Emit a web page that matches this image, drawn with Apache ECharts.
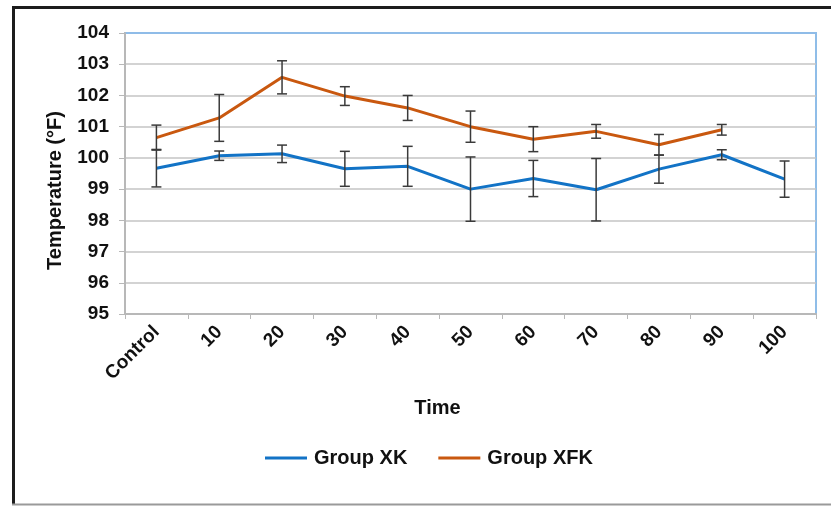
<!DOCTYPE html>
<html style="height: 100%">
<head>
<meta charset="utf-8">
<script src="https://cdn.jsdelivr.net/npm/echarts@6/dist/echarts.min.js"></script>
</head>
<body style="height: 100%; margin: 0; background: #fff">
<div id="container" style="width: 831px; height: 506px"></div>
<script type="text/javascript">
// time points and temperature means (°F) with error half-widths
var categories = ['Control', '10', '20', '30', '40', '50', '60', '70', '80', '90', '100'];
var xk = [99.67, 100.07, 100.13, 99.65, 99.73, 99.0, 99.34, 98.98, 99.64, 100.10, 99.32];
var xkErr = [0.6, 0.15, 0.28, 0.56, 0.64, 1.03, 0.58, 1.0, 0.45, 0.16, 0.58];
var xfk = [100.65, 101.28, 102.58, 101.98, 101.6, 101.0, 100.6, 100.85, 100.42, 100.9, null];
var xfkErr = [0.4, 0.75, 0.53, 0.3, 0.4, 0.5, 0.4, 0.22, 0.33, 0.17, null];
var yTicks = [95, 96, 97, 98, 99, 100, 101, 102, 103, 104];

var FONT = '"Liberation Sans", Arial, sans-serif';

var errData = function(vals, errs) {
    var res = [];
    for (var i = 0; i < vals.length; i++) {
        if (vals[i] != null) {
            res.push([i, vals[i] - errs[i], vals[i] + errs[i]]);
        }
    }
    return res;
};

var renderErr = function(params, api) {
    var lo = api.coord([api.value(0), api.value(1)]);
    var hi = api.coord([api.value(0), api.value(2)]);
    var w = 5;
    var st = { stroke: '#3a3a3a', lineWidth: 1.5 };
    return {
        type: 'group',
        children: [
            { type: 'line', shape: { x1: lo[0], y1: lo[1], x2: hi[0], y2: hi[1] }, style: st },
            { type: 'line', shape: { x1: lo[0] - w, y1: lo[1], x2: lo[0] + w, y2: lo[1] }, style: st },
            { type: 'line', shape: { x1: hi[0] - w, y1: hi[1], x2: hi[0] + w, y2: hi[1] }, style: st }
        ]
    };
};

var gridColors = [];
for (var k = 0; k < yTicks.length - 1; k++) gridColors.push('#c4c4c4');
gridColors.push('#8fbde8');

var myChart = echarts.init(document.getElementById('container'));
var option = {
    backgroundColor: '#ffffff',
    animation: false,
    textStyle: { fontFamily: FONT },
    grid: {
        left: 125, right: 15, top: 33, bottom: 192,
        show: true, borderColor: '#8fbde8', borderWidth: 2,
        backgroundColor: 'transparent'
    },
    legend: {
        left: 260, top: 443,
        icon: 'rect',
        itemWidth: 42, itemHeight: 3, itemGap: 31,
        data: ['Group XK', 'Group XFK'],
        textStyle: { fontSize: 20, fontWeight: 'bold', color: '#111', fontFamily: FONT, padding: [0, 0, 0, 2] }
    },
    xAxis: {
        type: 'category',
        data: categories,
        boundaryGap: true,
        name: 'Time',
        nameLocation: 'middle',
        nameGap: 84,
        nameTextStyle: { fontSize: 20, fontWeight: 'bold', color: '#111', padding: [0, 66, 0, 0] },
        axisLine: { lineStyle: { color: '#b8b8b8', width: 2 } },
        axisTick: { show: true, length: 5, lineStyle: { color: '#b8b8b8' } },
        axisLabel: { rotate: 45, margin: 15, fontSize: 19, fontWeight: 'bold', color: '#111', interval: 0 },
        splitLine: { show: false }
    },
    yAxis: {
        type: 'value',
        min: 95, max: 104, interval: 1,
        name: 'Temperature (°F)',
        nameLocation: 'middle',
        nameGap: 60,
        nameTextStyle: { fontSize: 20, fontWeight: 'bold', color: '#111', padding: [0, 0, 0, -34] },
        axisLine: { show: true, lineStyle: { color: '#b8b8b8', width: 2 } },
        axisTick: { show: true, length: 6, lineStyle: { color: '#b8b8b8' } },
        axisLabel: { margin: 16, fontSize: 19, fontWeight: 'bold', color: '#111' },
        splitLine: { show: true, lineStyle: { color: gridColors, width: 1.5 } }
    },
    series: [
        {
            name: 'Group XK', type: 'line', data: xk,
            symbol: 'none', z: 3,
            lineStyle: { color: '#1273c6', width: 3 },
            itemStyle: { color: '#1273c6' }
        },
        {
            name: 'Group XFK', type: 'line', data: xfk,
            symbol: 'none', z: 3,
            lineStyle: { color: '#c9580f', width: 3 },
            itemStyle: { color: '#c9580f' }
        },
        {
            name: 'XK err', type: 'custom', data: errData(xk, xkErr),
            renderItem: renderErr, encode: { x: 0, y: [1, 2] }, z: 4, silent: true
        },
        {
            name: 'XFK err', type: 'custom', data: errData(xfk, xfkErr),
            renderItem: renderErr, encode: { x: 0, y: [1, 2] }, z: 4, silent: true
        }
    ],
    graphic: [
        { type: 'line', shape: { x1: 12, y1: 7.5, x2: 831, y2: 7.5 }, style: { stroke: '#1c1c1c', lineWidth: 3 } },
        { type: 'line', shape: { x1: 13.5, y1: 6, x2: 13.5, y2: 505 }, style: { stroke: '#1c1c1c', lineWidth: 3 } },
        { type: 'line', shape: { x1: 12, y1: 504.5, x2: 831, y2: 504.5 }, style: { stroke: '#9a9a9a', lineWidth: 2 } }
    ]
};
myChart.setOption(option);
</script>
</body>
</html>
